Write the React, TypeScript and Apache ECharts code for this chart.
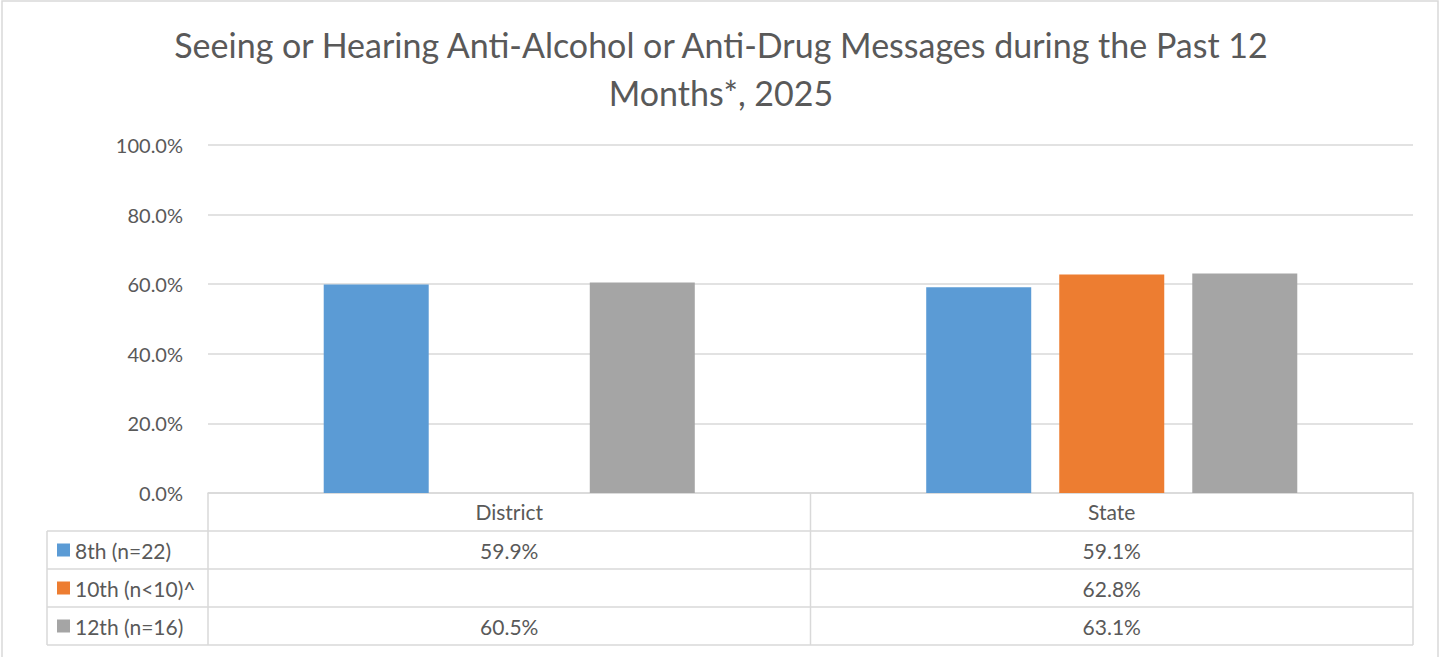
import React, { useEffect, useRef } from "react";
import * as echarts from "echarts";

const titleLines = [
  "Seeing or Hearing Anti-Alcohol or Anti-Drug Messages during the Past 12",
  "Months*, 2025",
];
const categories = ["District", "State"];
const seriesNames = ["8th (n=22)", "10th (n<10)^", "12th (n=16)"];
const colors = ["#5B9BD5", "#ED7D31", "#A5A5A5"];
const grade8 = [59.9, 59.1];
const grade10: (number | null)[] = [null, 62.8];
const grade12 = [60.5, 63.1];
const allSeries = [grade8, grade10, grade12];
const yTicks = { min: 0, max: 100, interval: 20 };

const FONT = "Lato";
const TEXT = "#595959";
const LINE = "#D9D9D9";
const LABEL_SIZE = 20;
const TABLE_SIZE = 21;

export default function App() {
  const ref = useRef<HTMLDivElement>(null);
  useEffect(() => {
    if (!ref.current) return;
    const chart = echarts.init(ref.current, null, { renderer: "svg" });
    const gridLeft = 208;
    const gridRight = 1413;
    const gridTop = 145;
    const gridBottom = 493;
    const rowH = 38;
    const tableLeft = 47;

    chart.setOption({
      animation: false,
      backgroundColor: "#fff",
      textStyle: { fontFamily: FONT },
      title: {
        text: titleLines.join("\n"),
        left: "center",
        top: 15,
        textStyle: {
          fontFamily: FONT,
          fontSize: 34,
          fontWeight: "normal",
          color: TEXT,
          lineHeight: 48,
        },
      },
      grid: {
        left: gridLeft,
        right: 1442 - gridRight,
        top: gridTop,
        bottom: 657 - gridBottom,
        containLabel: false,
      },
      xAxis: {
        type: "category",
        data: categories,
        axisLine: { show: true, lineStyle: { color: LINE, width: 1.5 } },
        axisTick: { show: false },
        axisLabel: {
          color: TEXT,
          fontFamily: FONT,
          fontSize: TABLE_SIZE,
          margin: 8,
        },
      },
      yAxis: {
        type: "value",
        min: yTicks.min,
        max: yTicks.max,
        interval: yTicks.interval,
        axisLine: { show: false },
        axisTick: { show: false },
        splitLine: { lineStyle: { color: LINE, width: 1.5 } },
        axisLabel: {
          color: TEXT,
          fontFamily: FONT,
          fontSize: LABEL_SIZE,
          margin: 25,
          formatter: (v: number) => v.toFixed(1) + "%",
        },
      },
      series: allSeries.map((d, i) => ({
        name: seriesNames[i],
        type: "bar",
        data: d,
        barWidth: 105,
        barGap: "26.7%",
        itemStyle: { color: colors[i] },
      })),
    });

    const colX = categories.map((c) => chart.convertToPixel({ xAxisIndex: 0 }, c) as number);
    const rowsTop = gridBottom + rowH;
    const graphics: any[] = [];
    const line = (x1: number, y1: number, x2: number, y2: number) =>
      graphics.push({
        type: "line",
        shape: { x1, y1, x2, y2 },
        style: { stroke: LINE, lineWidth: 1.5 },
        silent: true,
      });
    graphics.push({
      type: "rect",
      shape: { x: 2, y: 1, width: 1436, height: 700 },
      style: { fill: "none", stroke: LINE, lineWidth: 1.5 },
      silent: true,
    });
    for (let r = 0; r <= seriesNames.length; r++) {
      line(tableLeft, rowsTop + r * rowH, gridRight, rowsTop + r * rowH);
    }
    const tableBottom = rowsTop + seriesNames.length * rowH;
    const half = (gridRight - gridLeft) / categories.length;
    for (let c = 0; c <= categories.length; c++) {
      const x = gridLeft + c * half;
      line(x, gridBottom, x, tableBottom);
    }
    line(tableLeft, rowsTop, tableLeft, tableBottom);

    seriesNames.forEach((name, i) => {
      const cy = rowsTop + i * rowH + rowH / 2;
      graphics.push({
        type: "rect",
        shape: { x: 57, y: cy - 6.5, width: 13, height: 13 },
        style: { fill: colors[i] },
        silent: true,
      });
      graphics.push({
        type: "text",
        x: 75,
        y: cy,
        style: {
          text: name,
          fill: TEXT,
          font: `${TABLE_SIZE}px "${FONT}"`,
          textAlign: "left",
          verticalAlign: "middle",
        },
        silent: true,
      });
      allSeries[i].forEach((v, c) => {
        if (v == null) return;
        graphics.push({
          type: "text",
          x: colX[c],
          y: cy,
          style: {
            text: v.toFixed(1) + "%",
            fill: TEXT,
            font: `${TABLE_SIZE}px "${FONT}"`,
            textAlign: "center",
            verticalAlign: "middle",
          },
          silent: true,
        });
      });
    });

    chart.setOption({ graphic: graphics });
    return () => chart.dispose();
  }, []);

  return (
    <div
      ref={ref}
      style={{ position: "fixed", left: 0, top: 0, width: 1442, height: 657 }}
    />
  );
}
